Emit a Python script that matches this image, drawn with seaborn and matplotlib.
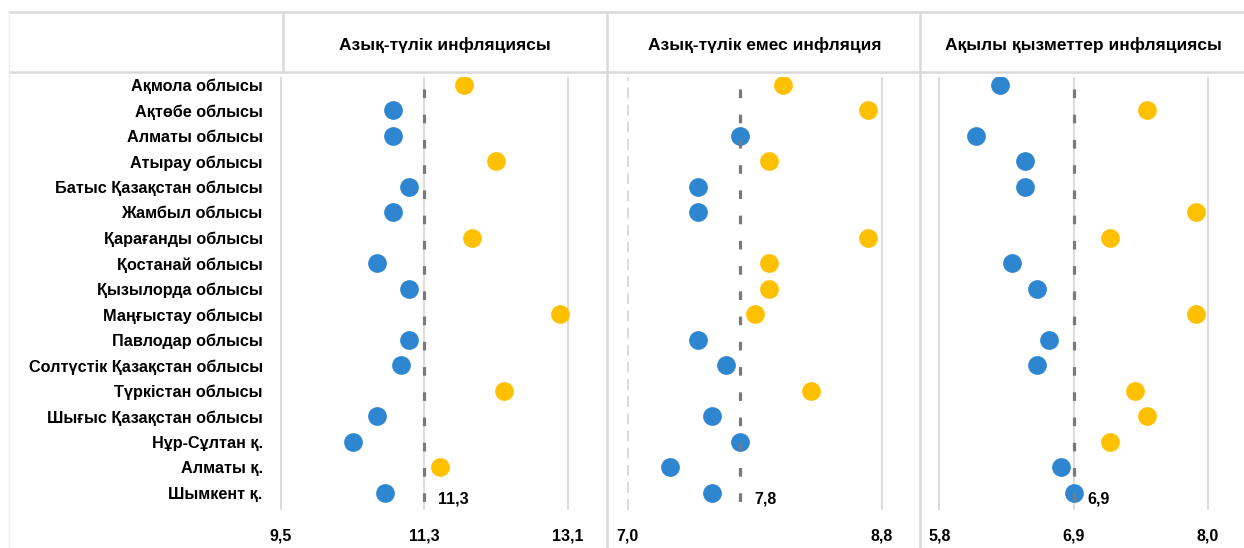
import pandas as pd
import matplotlib.pyplot as plt
import seaborn as sns
from matplotlib.lines import Line2D

# regions (top to bottom)
regions = ["Ақмола облысы", "Ақтөбе облысы", "Алматы облысы", "Атырау облысы",
           "Батыс Қазақстан облысы", "Жамбыл облысы", "Қарағанды облысы",
           "Қостанай облысы", "Қызылорда облысы", "Маңғыстау облысы",
           "Павлодар облысы", "Солтүстік Қазақстан облысы", "Түркістан облысы",
           "Шығыс Қазақстан облысы", "Нұр-Сұлтан қ.", "Алматы қ.", "Шымкент қ."]

food = [11.8, 10.9, 10.9, 12.2, 11.1, 10.9, 11.9, 10.7, 11.1, 13.0,
        11.1, 11.0, 12.3, 10.7, 10.4, 11.5, 10.8]
nonfood = [8.1, 8.7, 7.8, 8.0, 7.5, 7.5, 8.7, 8.0, 8.0, 7.9,
           7.5, 7.7, 8.3, 7.6, 7.8, 7.3, 7.6]
services = [6.3, 7.5, 6.1, 6.5, 6.5, 7.9, 7.2, 6.4, 6.6, 7.9,
            6.7, 6.6, 7.4, 7.5, 7.2, 6.8, 6.9]

titles = ["Азық-түлік инфляциясы", "Азық-түлік емес инфляция", "Ақылы қызметтер инфляциясы"]
means = [11.3, 7.8, 6.9]
mean_labels = ["11,3", "7,8", "6,9"]
ticks = [[9.5, 11.3, 13.1], [7.0, 8.8], [5.8, 6.9, 8.0]]
tick_labels = [["9,5", "11,3", "13,1"], ["7,0", "8,8"], ["5,8", "6,9", "8,0"]]

BLUE = "#2e86d1"
YELLOW = "#ffc000"
GRID = "#d9d9d9"
FONT = ["Liberation Sans", "DejaVu Sans"]

sns.set_style("white")
plt.rcParams["font.family"] = FONT
plt.rcParams["text.color"] = "black"
plt.rcParams["xtick.color"] = "black"
plt.rcParams["ytick.color"] = "black"

W, H = 1244, 548
fig = plt.figure(figsize=(W / 100, H / 100), dpi=100)


def px_axes(x0, x1, y0, y1):
    return fig.add_axes([x0 / W, 1 - y1 / H, (x1 - x0) / W, (y1 - y0) / H])


# pixel layout of the three panels and their x ranges
boxes = [(278, 603), (609, 918), (922, 1244)]
xlims = [(9.462, 13.54), (6.869, 9.057), (5.659, 8.296)]
y_top, y_bot = 77, 510
row0, step = 85, 25.5

series = [food, nonfood, services]
for i, vals in enumerate(series):
    df = pd.DataFrame({"region": regions, "value": vals})
    df["flag"] = ["above" if v > means[i] else "below" for v in vals]
    ax = px_axes(boxes[i][0], boxes[i][1], y_top, y_bot)
    for t in ticks[i]:
        ls = (0, (6, 3.5)) if (i == 1 and t == ticks[i][0]) else "-"
        ax.axvline(t, color=GRID, lw=1.3, ls=ls, zorder=0)
    sns.stripplot(data=df, x="value", y="region", hue="flag", order=regions,
                  palette={"above": YELLOW, "below": BLUE}, jitter=False,
                  size=13.5, linewidth=0, ax=ax, legend=False, zorder=3)
    ax.axvline(means[i], color="#7a7a7a", lw=2.3, ls=(5.2, (2.7, 5.2)),
               ymax=0.99, zorder=5)
    ax.set_xlim(*xlims[i])
    ax.set_ylim(16 + (y_bot - row0 - 16 * step) / step, -(row0 - y_top) / step)
    ax.set_xticks(ticks[i])
    ax.set_xticklabels(tick_labels[i], fontweight="bold", fontsize=11.5)
    ax.tick_params(axis="x", length=0, pad=13)
    ax.set_xlabel("")
    ax.set_ylabel("")
    if i == 0:
        ax.tick_params(axis="y", length=0, pad=11)
        for lab in ax.get_yticklabels():
            lab.set_fontweight("bold")
            lab.set_fontsize(11.7)
    else:
        ax.set_yticks([])
    for s in ax.spines.values():
        s.set_visible(False)
    ax.patch.set_alpha(0)
    ax.annotate(mean_labels[i], xy=(means[i], 16), xytext=(10, -4),
                textcoords="offset points", ha="left", va="center",
                fontweight="bold", fontsize=11.5)
    fig.text(((boxes[i][0] if i else 283) + (607 if i == 0 else (920 if i == 1 else W))) / 2 / W,
             1 - 45 / H, titles[i], ha="center", va="center",
             fontweight="bold", fontsize=12.5)

# header table lines
def fig_line(x0, y0, x1, y1, color=GRID, lw=1.8):
    fig.add_artist(Line2D([x0 / W, x1 / W], [1 - y0 / H, 1 - y1 / H],
                          transform=fig.transFigure, color=color, lw=lw))

fig_line(9, 12, W, 12)
fig_line(9, 72, W, 72)
fig_line(283, 12, 283, 72)
fig_line(607, 12, 607, H)
fig_line(920, 12, 920, H)
fig_line(9, 12, 9, H, color="#eeeeee", lw=1)

fig.savefig("out.png", dpi=100)
